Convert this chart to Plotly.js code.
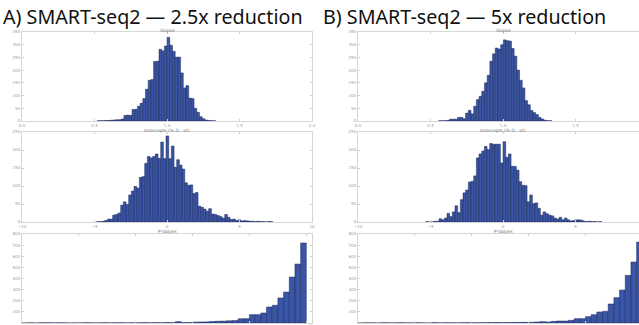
<!DOCTYPE html>
<html><head><meta charset="utf-8">
<script src="https://cdn.plot.ly/plotly-3.0.1.min.js"></script>
<style>html,body{margin:0;padding:0;background:#fff}#chart{width:639px;height:325px}</style>
</head><body><div id="chart"></div><script>
// ---- data ----
const panelTitles = ["A) SMART-seq2 — 2.5x reduction", "B) SMART-seq2 — 5x reduction"];
const subTitles = ["Slopes", "Intercepts (% D, .vt)", "P-Values"];

const slopeBinWidth = 0.0186;
const slopesAStart = 0.517;
const slopesA = [1,1,1,2,2,3,4,5,5,8,22,23,22,45,46,58,70,88,125,160,163,234,235,282,276,295,329,298,274,251,251,189,130,139,90,88,50,34,17,9,4,2,1,1];
const slopesBStart = 0.556;
const slopesB = [1,1,1,2,7,7,7,14,14,9,31,42,28,58,84,97,117,150,180,235,264,287,283,300,319,316,314,285,255,200,160,130,80,64,41,33,25,14,8,3,1,1];

const icptBinWidth = 0.184;
const icptAStart = -4.85;
const icptA = [1,1,2,4,8,8,19,21,25,47,56,49,75,86,99,94,124,126,163,182,178,182,189,177,222,176,239,176,211,152,173,158,147,109,102,103,79,82,44,41,36,30,37,22,21,18,15,11,21,13,7,8,4,6,3,4,3,2,2,1,2,1,1,0,1,1];
const icptBStart = -5.333;
const icptB = [1,0,0,2,2,9,6,11,24,15,28,45,26,62,81,89,111,113,128,178,189,197,210,201,218,216,216,216,164,223,180,189,155,154,144,112,102,101,56,75,51,53,38,19,28,23,19,17,11,8,13,6,11,6,3,4,6,6,5,2,1,2,1,1,0,1];

const pBinWidth = 0.02;
const pStart = 0;
const pvalA = [0,1,0,2,2,1,2,1,0,1,1,2,1,1,2,1,2,2,1,2,2,3,2,3,2,4,3,12,3,4,8,9,10,14,16,17,20,22,38,39,75,75,90,144,159,225,278,413,530,719];
const pvalB = [0,1,1,0,2,1,1,2,1,1,2,1,0,3,1,2,2,1,2,3,2,2,3,3,4,3,4,5,5,6,6,9,12,9,15,18,18,24,39,39,57,75,99,105,171,228,296,428,548,727];

const slopeTicks = [0, 0.5, 1, 1.5, 2];
const slopeTickText = ["0.0", "0.5", "1.0", "1.5", "2.0"];
const icptTicks = [-10, -5, 0, 5, 10];
const pTicks = [0, 0.2, 0.4, 0.6, 0.8, 1.0];

// ---- layout helpers ----
const W = 639, H = 325;
const px = v => v / W, py = v => 1 - v / H;
const barColor = '#3a55a5', barLine = '#1b2656';

function bars(y, start, w, xa, ya) {
  return {type: 'bar', y: y, x0: start + w / 2, dx: w, width: w,
    xaxis: xa, yaxis: ya, marker: {color: barColor, line: {color: barLine, width: 0.5}},
    hoverinfo: 'skip', showlegend: false};
}

const data = [
  bars(slopesA, slopesAStart, slopeBinWidth, 'x', 'y'),
  bars(slopesB, slopesBStart, slopeBinWidth, 'x2', 'y2'),
  bars(icptA, icptAStart, icptBinWidth, 'x3', 'y3'),
  bars(icptB, icptBStart, icptBinWidth, 'x4', 'y4'),
  bars(pvalA, pStart, pBinWidth, 'x5', 'y5'),
  bars(pvalB, pStart, pBinWidth, 'x6', 'y6')
];

const tf = {size: 4, color: '#999', family: 'DejaVu Sans'};
function ax(extra) {
  return Object.assign({showgrid: false, zeroline: false, showline: true, linecolor: '#d6d6d6',
    linewidth: 1, ticks: 'inside', ticklen: 2, tickcolor: '#d0d0d0', tickfont: tf,
    fixedrange: true}, extra);
}
const colA = [px(22), px(312)], colB = [px(358), 1];
const row1 = [py(121), py(32)], row2 = [py(222), py(132)], row3 = [py(323), py(234)];
const bWidthFrac = (W - 358) / 290;

const layout = {
  width: W, height: H, margin: {l: 0, r: 0, t: 0, b: 0},
  paper_bgcolor: '#fff', plot_bgcolor: '#fff', bargap: 0,
  xaxis: ax({domain: colA, range: [0, 2], tickvals: slopeTicks, ticktext: slopeTickText, mirror: 'ticks', anchor: 'y'}),
  yaxis: ax({domain: row1, range: [0, 350], dtick: 50, mirror: 'ticks', anchor: 'x'}),
  xaxis2: ax({domain: colB, range: [0, 2 * bWidthFrac], tickvals: slopeTicks, ticktext: slopeTickText, mirror: 'ticks', anchor: 'y2'}),
  yaxis2: ax({domain: row1, range: [0, 350], dtick: 50, anchor: 'x2'}),
  xaxis3: ax({domain: colA, range: [-10, 10], tickvals: icptTicks, mirror: 'ticks', anchor: 'y3'}),
  yaxis3: ax({domain: row2, range: [0, 250], dtick: 50, mirror: 'ticks', anchor: 'x3'}),
  xaxis4: ax({domain: colB, range: [-10, -10 + 20 * bWidthFrac], tickvals: icptTicks, mirror: 'ticks', anchor: 'y4'}),
  yaxis4: ax({domain: row2, range: [0, 250], dtick: 50, anchor: 'x4'}),
  xaxis5: ax({domain: colA, range: [0, 1.02], tickvals: pTicks, showticklabels: false, mirror: 'ticks', anchor: 'y5'}),
  yaxis5: ax({domain: row3, range: [0, 800], dtick: 100, mirror: 'ticks', anchor: 'x5'}),
  xaxis6: ax({domain: colB, range: [0, 1.02 * bWidthFrac], tickvals: pTicks, showticklabels: false, mirror: 'ticks', anchor: 'y6'}),
  yaxis6: ax({domain: row3, range: [0, 800], dtick: 100, anchor: 'x6'}),
  annotations: []
};

const titleFont = {family: 'Noto Sans', size: 19.7, color: '#111'};
layout.annotations.push({xref: 'paper', yref: 'paper', x: px(1), y: py(17), xanchor: 'left', yanchor: 'middle', text: panelTitles[0], showarrow: false, font: titleFont});
layout.annotations.push({xref: 'paper', yref: 'paper', x: px(321), y: py(17), xanchor: 'left', yanchor: 'middle', text: panelTitles[1], showarrow: false, font: titleFont});

const subFont = {family: 'DejaVu Sans', size: 4.5, color: '#777'};
const subY = [30, 130, 232];
[167, 503].forEach(cx => {
  subTitles.forEach((t, i) => {
    layout.annotations.push({xref: 'paper', yref: 'paper', x: px(cx), y: py(subY[i]), xanchor: 'center', yanchor: 'middle', text: t, showarrow: false, font: subFont});
  });
});

Plotly.newPlot('chart', data, layout, {staticPlot: true, displayModeBar: false});
</script></body></html>
